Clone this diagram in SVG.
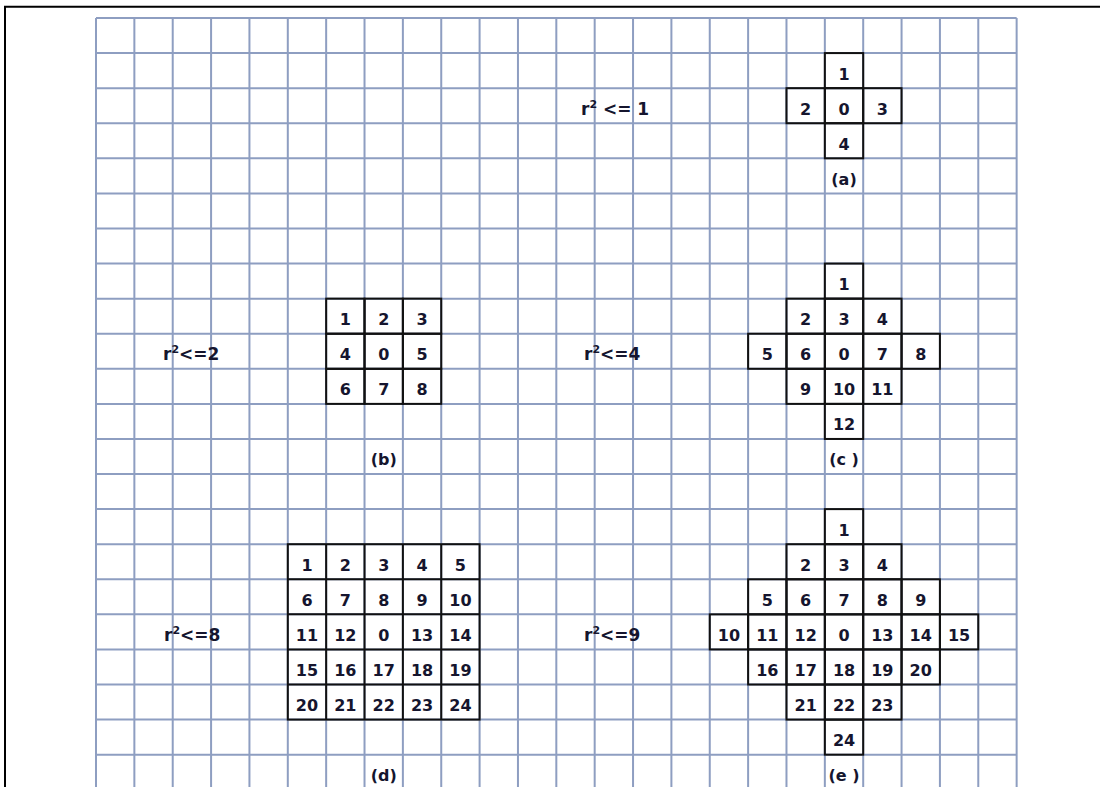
<svg xmlns="http://www.w3.org/2000/svg" width="1100" height="787" viewBox="0 0 1100 787">
<style>
.grid{fill:none;stroke:#8E9EC1;stroke-width:2}
.frame{fill:none;stroke:#000;stroke-width:2}
.cell{fill:none;stroke:#111;stroke-width:2}
text{font-family:"DejaVu Sans","Liberation Sans",sans-serif;font-weight:bold;font-size:16px;fill:#15152e}
.n{text-anchor:middle}
.lbl{font-size:17px}
.sup{font-size:11px}
</style>
<rect x="0" y="0" width="1100" height="787" fill="#fff"/>
<path class="frame" d="M5 787V6.8H1100"/>
<g id="grid">
<path class="grid" d="M96 18V787M134.36 18V787M172.72 18V787M211.08 18V787M249.44 18V787M287.8 18V787M326.16 18V787M364.52 18V787M402.88 18V787M441.24 18V787M479.6 18V787M517.96 18V787M556.32 18V787M594.68 18V787M633.04 18V787M671.4 18V787M709.76 18V787M748.12 18V787M786.48 18V787M824.84 18V787M863.2 18V787M901.56 18V787M939.92 18V787M978.28 18V787M1016.64 18V787"/>
<path class="grid" d="M96 18H1016.64M96 53.08H1016.64M96 88.16H1016.64M96 123.24H1016.64M96 158.32H1016.64M96 193.4H1016.64M96 228.48H1016.64M96 263.56H1016.64M96 298.64H1016.64M96 333.72H1016.64M96 368.8H1016.64M96 403.88H1016.64M96 438.96H1016.64M96 474.04H1016.64M96 509.12H1016.64M96 544.2H1016.64M96 579.28H1016.64M96 614.36H1016.64M96 649.44H1016.64M96 684.52H1016.64M96 719.6H1016.64M96 754.68H1016.64"/>
</g>
<g id="connectors"></g>

<g id="fig-a">
<text class="lbl" x="581" y="114.5">r<tspan class="sup" dy="-7">2</tspan><tspan dy="7"> &lt;= 1</tspan></text>
<rect class="cell" x="824.84" y="53.08" width="38.36" height="35.08"/>
<rect class="cell" x="786.48" y="88.16" width="38.36" height="35.08"/>
<rect class="cell" x="824.84" y="88.16" width="38.36" height="35.08"/>
<rect class="cell" x="863.2" y="88.16" width="38.36" height="35.08"/>
<rect class="cell" x="824.84" y="123.24" width="38.36" height="35.08"/>
<text class="n" x="844.02" y="79.5">1</text>
<text class="n" x="805.66" y="114.6">2</text>
<text class="n" x="844.02" y="114.6">0</text>
<text class="n" x="882.38" y="114.6">3</text>
<text class="n" x="844.02" y="149.7">4</text>
<text class="n" x="844.02" y="184.8">(a)</text>
</g>

<g id="fig-b">
<text class="lbl" x="163" y="360">r<tspan class="sup" dy="-7">2</tspan><tspan dy="7">&lt;=2</tspan></text>
<rect class="cell" x="326.16" y="298.64" width="38.36" height="35.08"/>
<rect class="cell" x="364.52" y="298.64" width="38.36" height="35.08"/>
<rect class="cell" x="402.88" y="298.64" width="38.36" height="35.08"/>
<rect class="cell" x="326.16" y="333.72" width="38.36" height="35.08"/>
<rect class="cell" x="364.52" y="333.72" width="38.36" height="35.08"/>
<rect class="cell" x="402.88" y="333.72" width="38.36" height="35.08"/>
<rect class="cell" x="326.16" y="368.8" width="38.36" height="35.08"/>
<rect class="cell" x="364.52" y="368.8" width="38.36" height="35.08"/>
<rect class="cell" x="402.88" y="368.8" width="38.36" height="35.08"/>
<text class="n" x="345.34" y="325.1">1</text>
<text class="n" x="383.7" y="325.1">2</text>
<text class="n" x="422.06" y="325.1">3</text>
<text class="n" x="345.34" y="360.2">4</text>
<text class="n" x="383.7" y="360.2">0</text>
<text class="n" x="422.06" y="360.2">5</text>
<text class="n" x="345.34" y="395.3">6</text>
<text class="n" x="383.7" y="395.3">7</text>
<text class="n" x="422.06" y="395.3">8</text>
<text class="n" x="383.7" y="465.4">(b)</text>
</g>

<g id="fig-c">
<text class="lbl" x="584" y="360">r<tspan class="sup" dy="-7">2</tspan><tspan dy="7">&lt;=4</tspan></text>
<rect class="cell" x="824.84" y="263.56" width="38.36" height="35.08"/>
<rect class="cell" x="786.48" y="298.64" width="38.36" height="35.08"/>
<rect class="cell" x="824.84" y="298.64" width="38.36" height="35.08"/>
<rect class="cell" x="863.2" y="298.64" width="38.36" height="35.08"/>
<rect class="cell" x="748.12" y="333.72" width="38.36" height="35.08"/>
<rect class="cell" x="786.48" y="333.72" width="38.36" height="35.08"/>
<rect class="cell" x="824.84" y="333.72" width="38.36" height="35.08"/>
<rect class="cell" x="863.2" y="333.72" width="38.36" height="35.08"/>
<rect class="cell" x="901.56" y="333.72" width="38.36" height="35.08"/>
<rect class="cell" x="786.48" y="368.8" width="38.36" height="35.08"/>
<rect class="cell" x="824.84" y="368.8" width="38.36" height="35.08"/>
<rect class="cell" x="863.2" y="368.8" width="38.36" height="35.08"/>
<rect class="cell" x="824.84" y="403.88" width="38.36" height="35.08"/>
<text class="n" x="844.02" y="290">1</text>
<text class="n" x="805.66" y="325.1">2</text>
<text class="n" x="844.02" y="325.1">3</text>
<text class="n" x="882.38" y="325.1">4</text>
<text class="n" x="767.3" y="360.2">5</text>
<text class="n" x="805.66" y="360.2">6</text>
<text class="n" x="844.02" y="360.2">0</text>
<text class="n" x="882.38" y="360.2">7</text>
<text class="n" x="920.74" y="360.2">8</text>
<text class="n" x="805.66" y="395.3">9</text>
<text class="n" x="844.02" y="395.3">10</text>
<text class="n" x="882.38" y="395.3">11</text>
<text class="n" x="844.02" y="430.3">12</text>
<text class="n" x="844.02" y="465.4">(c )</text>
</g>

<g id="fig-d">
<text class="lbl" x="164" y="640.8">r<tspan class="sup" dy="-7">2</tspan><tspan dy="7">&lt;=8</tspan></text>
<rect class="cell" x="287.8" y="544.2" width="191.8" height="175.4"/>
<path class="cell" d="M326.16 544.2V719.6M364.52 544.2V719.6M402.88 544.2V719.6M441.24 544.2V719.6M287.8 579.28H479.6M287.8 614.36H479.6M287.8 649.44H479.6M287.8 684.52H479.6"/>
<text class="n" x="306.98" y="570.6">1</text>
<text class="n" x="345.34" y="570.6">2</text>
<text class="n" x="383.7" y="570.6">3</text>
<text class="n" x="422.06" y="570.6">4</text>
<text class="n" x="460.42" y="570.6">5</text>
<text class="n" x="306.98" y="605.7">6</text>
<text class="n" x="345.34" y="605.7">7</text>
<text class="n" x="383.7" y="605.7">8</text>
<text class="n" x="422.06" y="605.7">9</text>
<text class="n" x="460.42" y="605.7">10</text>
<text class="n" x="306.98" y="640.8">11</text>
<text class="n" x="345.34" y="640.8">12</text>
<text class="n" x="383.7" y="640.8">0</text>
<text class="n" x="422.06" y="640.8">13</text>
<text class="n" x="460.42" y="640.8">14</text>
<text class="n" x="306.98" y="675.9">15</text>
<text class="n" x="345.34" y="675.9">16</text>
<text class="n" x="383.7" y="675.9">17</text>
<text class="n" x="422.06" y="675.9">18</text>
<text class="n" x="460.42" y="675.9">19</text>
<text class="n" x="306.98" y="711">20</text>
<text class="n" x="345.34" y="711">21</text>
<text class="n" x="383.7" y="711">22</text>
<text class="n" x="422.06" y="711">23</text>
<text class="n" x="460.42" y="711">24</text>
<text class="n" x="383.7" y="781.1">(d)</text>
</g>

<g id="fig-e">
<text class="lbl" x="584" y="640.8">r<tspan class="sup" dy="-7">2</tspan><tspan dy="7">&lt;=9</tspan></text>
<rect class="cell" x="824.84" y="509.12" width="38.36" height="35.08"/>
<rect class="cell" x="786.48" y="544.2" width="38.36" height="35.08"/>
<rect class="cell" x="824.84" y="544.2" width="38.36" height="35.08"/>
<rect class="cell" x="863.2" y="544.2" width="38.36" height="35.08"/>
<rect class="cell" x="748.12" y="579.28" width="38.36" height="35.08"/>
<rect class="cell" x="786.48" y="579.28" width="38.36" height="35.08"/>
<rect class="cell" x="824.84" y="579.28" width="38.36" height="35.08"/>
<rect class="cell" x="863.2" y="579.28" width="38.36" height="35.08"/>
<rect class="cell" x="901.56" y="579.28" width="38.36" height="35.08"/>
<rect class="cell" x="709.76" y="614.36" width="38.36" height="35.08"/>
<rect class="cell" x="748.12" y="614.36" width="38.36" height="35.08"/>
<rect class="cell" x="786.48" y="614.36" width="38.36" height="35.08"/>
<rect class="cell" x="824.84" y="614.36" width="38.36" height="35.08"/>
<rect class="cell" x="863.2" y="614.36" width="38.36" height="35.08"/>
<rect class="cell" x="901.56" y="614.36" width="38.36" height="35.08"/>
<rect class="cell" x="939.92" y="614.36" width="38.36" height="35.08"/>
<rect class="cell" x="748.12" y="649.44" width="38.36" height="35.08"/>
<rect class="cell" x="786.48" y="649.44" width="38.36" height="35.08"/>
<rect class="cell" x="824.84" y="649.44" width="38.36" height="35.08"/>
<rect class="cell" x="863.2" y="649.44" width="38.36" height="35.08"/>
<rect class="cell" x="901.56" y="649.44" width="38.36" height="35.08"/>
<rect class="cell" x="786.48" y="684.52" width="38.36" height="35.08"/>
<rect class="cell" x="824.84" y="684.52" width="38.36" height="35.08"/>
<rect class="cell" x="863.2" y="684.52" width="38.36" height="35.08"/>
<rect class="cell" x="824.84" y="719.6" width="38.36" height="35.08"/>
<text class="n" x="844.02" y="535.5">1</text>
<text class="n" x="805.66" y="570.6">2</text>
<text class="n" x="844.02" y="570.6">3</text>
<text class="n" x="882.38" y="570.6">4</text>
<text class="n" x="767.3" y="605.7">5</text>
<text class="n" x="805.66" y="605.7">6</text>
<text class="n" x="844.02" y="605.7">7</text>
<text class="n" x="882.38" y="605.7">8</text>
<text class="n" x="920.74" y="605.7">9</text>
<text class="n" x="728.94" y="640.8">10</text>
<text class="n" x="767.3" y="640.8">11</text>
<text class="n" x="805.66" y="640.8">12</text>
<text class="n" x="844.02" y="640.8">0</text>
<text class="n" x="882.38" y="640.8">13</text>
<text class="n" x="920.74" y="640.8">14</text>
<text class="n" x="959.1" y="640.8">15</text>
<text class="n" x="767.3" y="675.9">16</text>
<text class="n" x="805.66" y="675.9">17</text>
<text class="n" x="844.02" y="675.9">18</text>
<text class="n" x="882.38" y="675.9">19</text>
<text class="n" x="920.74" y="675.9">20</text>
<text class="n" x="805.66" y="711">21</text>
<text class="n" x="844.02" y="711">22</text>
<text class="n" x="882.38" y="711">23</text>
<text class="n" x="844.02" y="746">24</text>
<text class="n" x="844.02" y="781.1">(e )</text>
</g>
</svg>
